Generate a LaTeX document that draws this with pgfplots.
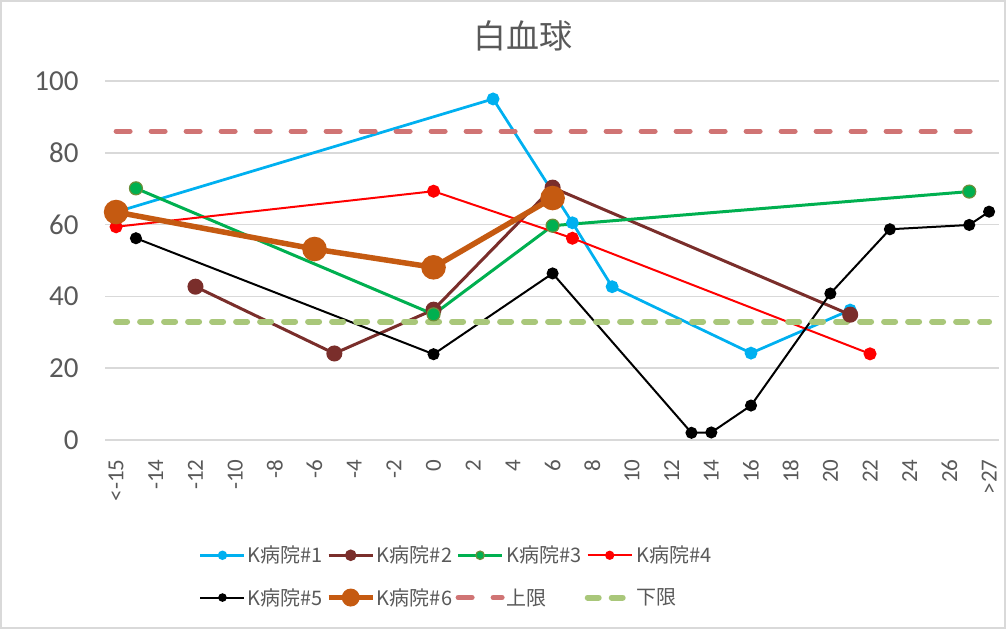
\documentclass[border=0pt]{standalone}
\usepackage{pgfplots}
\pgfplotsset{compat=1.18}
\usepackage{fontspec}
\setmainfont{Carlito}
\newfontfamily\jp{Noto Sans CJK JP}
\definecolor{c1}{HTML}{00B0F0}
\definecolor{c2}{HTML}{7A2E2B}
\definecolor{c3}{HTML}{00B050}
\definecolor{c3e}{HTML}{6B8E3A}
\definecolor{c4}{HTML}{FF0000}
\definecolor{c6}{HTML}{C55A11}
\definecolor{up}{HTML}{D07474}
\definecolor{lo}{HTML}{A9C77A}
\definecolor{txt}{HTML}{595959}
\definecolor{gridc}{HTML}{D9D9D9}
\begin{document}
\begin{tikzpicture}
\useasboundingbox (0,0) rectangle (1006bp,629bp);
\draw[gridc, line width=2bp] (1bp,1bp) rectangle (1005bp,628bp);
\begin{axis}[
 at={(105bp,189bp)}, anchor=south west,
 scale only axis, width=894bp, height=359bp,
 xmin=-16.56, xmax=28.5, ymin=0, ymax=100,
 axis line style={draw=none},
 tick style={draw=none},
 ytick={0,20,...,100}, yticklabels={0,20,40,60,80,100},
 xtick={-16,-14,...,28},
 xticklabels={{<-15},-14,-12,-10,-8,-6,-4,-2,0,2,4,6,8,10,12,14,16,18,20,22,24,26,{>27}},
 ymajorgrids, major grid style={gridc, line width=1.5bp},
 yticklabel style={font=\fontsize{29bp}{32bp}\selectfont, text=txt},
 yticklabel shift=23bp,
 xticklabel style={font=\fontsize{23bp}{26bp}\selectfont, text=txt, rotate=90, anchor=east},
 xticklabel shift=16bp,
 legend columns=4,
 legend cell align=left,
 legend style={at={(0.3926,-0.38)}, anchor=center, draw=none, fill=none,
   font=\jp\fontsize{20bp}{24bp}\selectfont, text=txt,
   nodes={inner sep=1.5bp},
   /tikz/every even column/.append style={column sep=2bp},
   row sep=21bp},
 legend image code/.code={\draw[mark repeat=2,mark phase=2,#1, every mark/.append style={scale=0.65}] plot coordinates {(0bp,0bp) (22bp,0bp) (44bp,0bp)};},
]
\addplot[c1, line width=2.75bp, mark=*, mark size=5bp, mark options={fill=c1, draw=c1, solid}]
 coordinates {(-16,63.5) (3,95) (7,60.5) (9,42.7) (16,24.2) (21,36.2)};
\addlegendentry{K病院\#1}
\addplot[c2, line width=3bp, mark=*, mark size=6.5bp, mark options={fill=c2, draw=c2, solid}]
 coordinates {(-12,42.7) (-5,24.1) (0,36.3) (6,70.3) (21,34.9)};
\addlegendentry{K病院\#2}
\addplot[c3, line width=3bp, mark=*, mark size=6.5bp, mark options={fill=c3, draw=c3e, line width=1.2bp, solid}]
 coordinates {(-15,70.1) (0,35) (6,59.7) (27,69.2)};
\addlegendentry{K病院\#3}
\addplot[c4, line width=2bp, mark=*, mark size=5.5bp, mark options={fill=c4, draw=c4, solid}]
 coordinates {(-16,59.4) (0,69.3) (7,56.2) (22,24)};
\addlegendentry{K病院\#4}
\addplot[black, line width=2bp, mark=*, mark size=5bp, mark options={fill=black, draw=black, solid}]
 coordinates {(-15,56.2) (0,23.9) (6,46.4) (13,2) (14,2.1) (16,9.6) (20,40.8) (23,58.7) (27,59.9) (28,63.6)};
\addlegendentry{K病院\#5}
\addplot[c6, line width=5.5bp, mark=*, mark size=9.5bp, mark options={fill=c6, draw=c6, solid}]
 coordinates {(-16,63.5) (-6,53.2) (0,48.1) (6,67.4)};
\addlegendentry{K病院\#6}
\addplot[up, line width=5bp, dash pattern=on 14bp off 21bp, line cap=round]
 coordinates {(-16,86) (28,86)};
\addlegendentry{上限}
\addplot[lo, line width=6bp, dash pattern=on 11bp off 13bp, line cap=round]
 coordinates {(-16,33) (28,33)};
\addlegendentry{下限}
\end{axis}
\node[font=\jp\fontsize{33bp}{38bp}\selectfont, text=txt] at (523bp,593bp) {白血球};
\end{tikzpicture}
\end{document}
